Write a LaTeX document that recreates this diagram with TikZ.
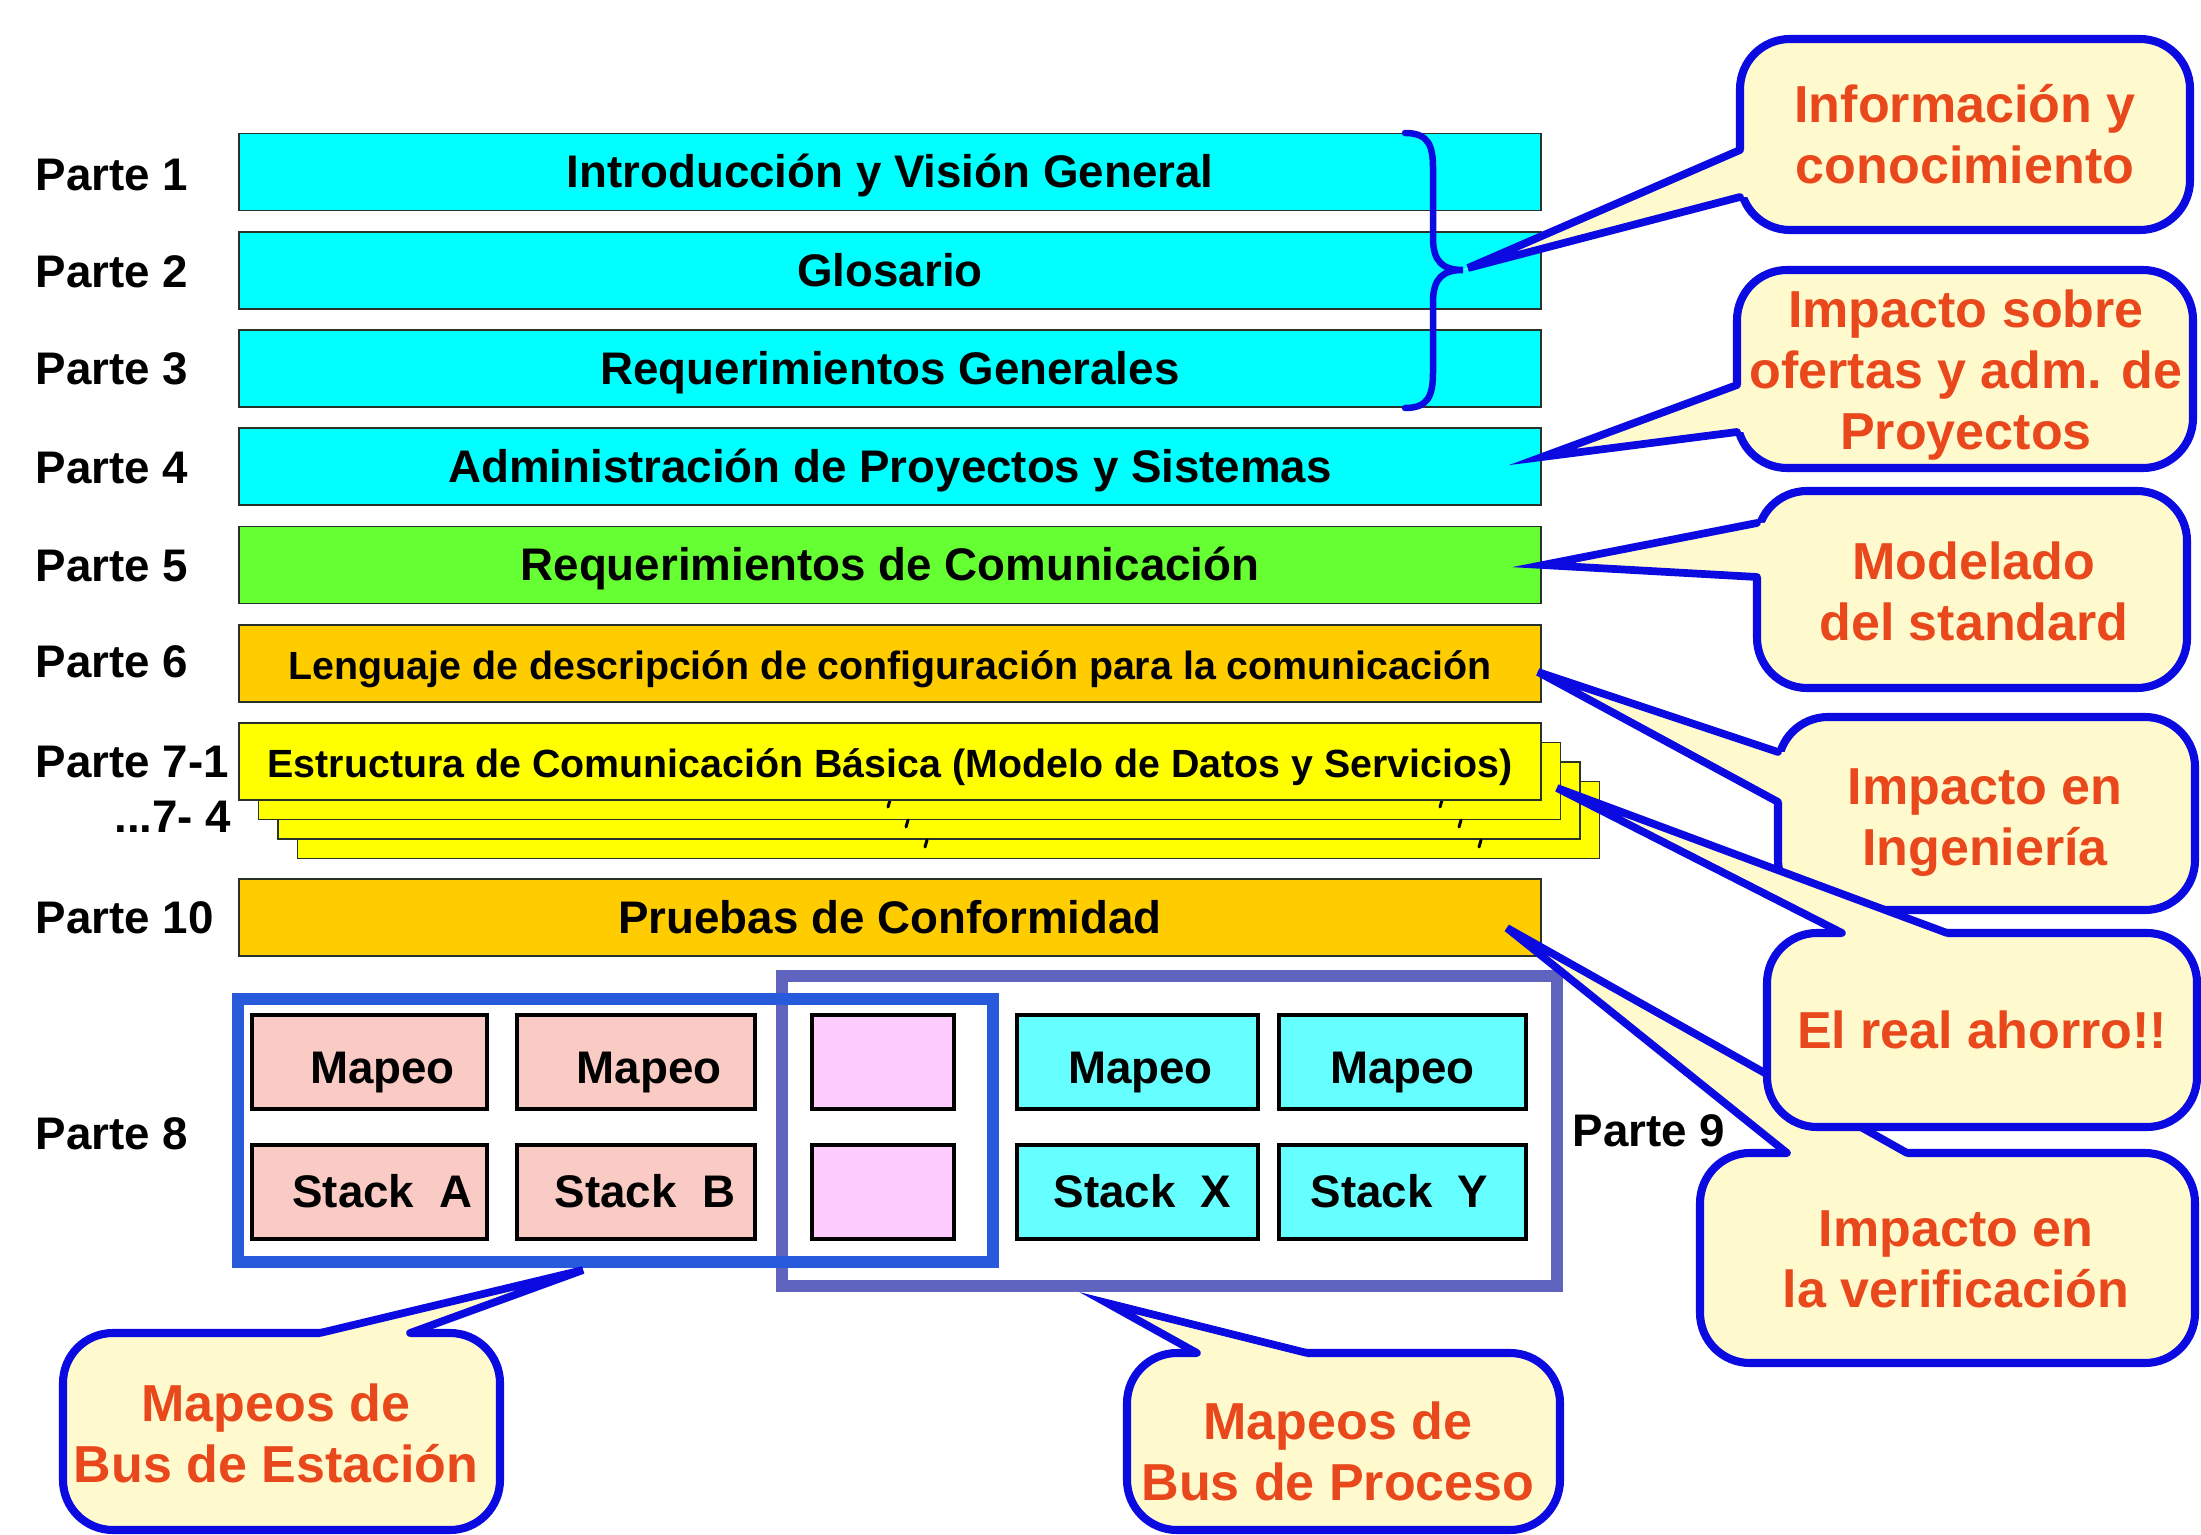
\documentclass[tikz,border=0pt]{standalone}
\usepackage{fontspec}
\setmainfont{Liberation Sans}
\definecolor{barcyan}{RGB}{0,255,255}
\definecolor{bargreen}{RGB}{102,255,51}
\definecolor{barorange}{RGB}{255,204,0}
\definecolor{baryellow}{RGB}{255,255,0}
\definecolor{pinkbox}{RGB}{250,202,196}
\definecolor{magbox}{RGB}{255,204,255}
\definecolor{cyanbox}{RGB}{102,255,255}
\definecolor{callfill}{RGB}{255,250,205}
\definecolor{callline}{RGB}{10,10,225}
\definecolor{calltext}{RGB}{232,72,28}
\definecolor{frameA}{RGB}{40,90,220}
\definecolor{frameB}{RGB}{95,100,190}
\definecolor{barline}{RGB}{40,50,40}
\tikzset{
  bar/.style={draw=barline, line width=0.5pt, minimum width=130.2mm, minimum height=7.7mm,
    inner sep=0pt, text height=0.9em, text depth=0pt, font=\fontsize{13}{15}\selectfont\bfseries},
  parte/.style={anchor=west, inner sep=0pt, text height=0.9em, text depth=0pt,
    font=\fontsize{13}{15}\selectfont\bfseries},
  sbox/.style={draw=black, line width=0.9pt, minimum height=9.4mm, inner sep=0pt,
    text height=0.9em, text depth=0pt, font=\fontsize{13}{15}\selectfont\bfseries},
  mapeo/.style={text height=1.2em},
  callout/.style={draw=callline, fill=callfill, line width=2.3pt, rounded corners=5mm, inner sep=0pt},
  calltxt/.style={inner sep=0pt, align=center, text=calltext, font=\fontsize{14.8}{17.4}\selectfont\bfseries},
  wedgefill/.style={fill=callfill},
  wedgeline/.style={draw=callline, line width=2.2pt, line cap=round, line join=miter},
  frameline/.style={line width=1.2mm, inner sep=0pt},
  tick/.style={line width=0.3mm, line cap=round}
}
\begin{document}
\begin{tikzpicture}[x=0.1mm,y=-0.1mm]
\useasboundingbox (0,0) rectangle (2201,1535);
\fill[white] (0,0) rectangle (2201,1535);

% ---- stacked sheets (parte 7) ----
\node[bar, fill=baryellow] (s4) at (948.5,820) {};
\node[bar, fill=baryellow] (s3) at (929,800.5) {};
\node[bar, fill=baryellow] (s2) at (909.5,781) {};
\draw[tick] (890,800) -- (888,807);
\draw[tick] (1442,800) -- (1440,807);
\draw[tick] (908,820) -- (906,827);
\draw[tick] (1461,820) -- (1459,827);
\draw[tick] (927,840) -- (925,847);
\draw[tick] (1481,840) -- (1479,847);

% ---- bars ----
\node[bar, fill=barcyan] (b1) at (890,172) {Introducción y Visión General};
\node[bar, fill=barcyan] (b2) at (890,270.5) {Glosario};
\node[bar, fill=barcyan] (b3) at (890,368.5) {Requerimientos Generales};
\node[bar, fill=barcyan] (b4) at (890,466.5) {Administración de Proyectos y Sistemas};
\node[bar, fill=bargreen] (b5) at (890,565) {Requerimientos de Comunicación};
\node[bar, fill=barorange, font=\fontsize{11.2}{13}\selectfont\bfseries] (b6) at (890,663.5) {Lenguaje de descripción de configuración para la comunicación};
\node[bar, fill=baryellow, font=\fontsize{11.2}{13}\selectfont\bfseries] (b7) at (890,761.5) {Estructura de Comunicación Básica (Modelo de Datos y Servicios)};
\node[bar, fill=barorange] (b10) at (890,917.5) {Pruebas de Conformidad};

% ---- labels ----
\node[parte] (p1) at (35,175) {Parte 1};
\node[parte] (p2) at (35,272) {Parte 2};
\node[parte] (p3) at (35,369) {Parte 3};
\node[parte] (p4) at (35,468) {Parte 4};
\node[parte] (p5) at (35,566) {Parte 5};
\node[parte] (p6) at (35,662) {Parte 6};
\node[parte] (p7) at (35,762) {Parte 7-1};
\node[parte, anchor=east] (p74) at (232,817) {...7- 4};
\node[parte] (p10) at (35,918) {Parte 10};
\node[parte] (p8) at (35,1134) {Parte 8};
\node[parte] (p9) at (1572,1131) {Parte 9};

% ---- brace ----
\coordinate (brtip) at (1463,270);
\draw[callline, line width=0.65mm, line cap=round]
  (1405,133) .. controls (1428,133) and (1433,145) .. (1433,168) -- (1433,238)
  .. controls (1433,262) and (1443,270) .. (brtip)
  .. controls (1443,270) and (1433,278) .. (1433,302) -- (1433,372)
  .. controls (1433,396) and (1428,408) .. (1405,408);

% ---- frames parte 8 / 9 ----
\node[frameline, draw=frameB, minimum width=77.5mm, minimum height=31mm] (f9) at (1169.5,1131) {};
\node[frameline, draw=frameA, minimum width=75.5mm, minimum height=26.3mm] (f8) at (615.5,1130.5) {};

% ---- small boxes ----
\node[sbox, mapeo, fill=pinkbox, minimum width=23.5mm] (ma) at (369.5,1062) {\hspace*{2.6mm}Mapeo};
\node[sbox, mapeo, fill=pinkbox, minimum width=23.8mm] (mb) at (636,1062) {\hspace*{2.6mm}Mapeo};
\node[sbox, fill=magbox, minimum width=14.2mm] (mm) at (883,1062) {};
\node[sbox, mapeo, fill=cyanbox, minimum width=24.1mm] (mx) at (1137.5,1062) {\hspace*{0.6mm}Mapeo};
\node[sbox, mapeo, fill=cyanbox, minimum width=24.7mm] (my) at (1402.5,1062) {Mapeo};
\node[sbox, fill=pinkbox, minimum width=23.5mm] (sa) at (369.5,1192) {\hspace*{2.6mm}Stack\ \ A};
\node[sbox, fill=pinkbox, minimum width=23.8mm] (sb) at (636,1192) {\hspace*{1.8mm}Stack\ \ B};
\node[sbox, fill=magbox, minimum width=14.2mm] (sm) at (883,1192) {};
\node[sbox, fill=cyanbox, minimum width=24.1mm] (sx) at (1137.5,1192) {\hspace*{1mm}Stack\ \ X};
\node[sbox, fill=cyanbox, minimum width=24.7mm] (sy) at (1402.5,1192) {Stack\ \ Y\hspace*{0.6mm}};

% ---- callout 1 ----
\node[callout, minimum width=45mm, minimum height=19.1mm] (c1) at (1965,134.5) {};
\coordinate (c1a) at (1740,150); \coordinate (c1b) at (1740,197);
\fill[wedgefill] (brtip) -- (c1a) -- (1756,150) -- (1756,197) -- (c1b) -- cycle;
\draw[wedgeline] (c1a) -- (1468,268) -- (c1b);
\node[calltxt] (c1t) at (1965,134.5) {Información y\\conocimiento};

% ---- callout 2 ----
\node[callout, minimum width=45.6mm, minimum height=19.8mm] (c2) at (1965,369) {};
\coordinate (c2t) at (1542,457); \coordinate (c2a) at (1737,385); \coordinate (c2b) at (1737,432);
\fill[wedgefill] (c2t) -- (c2a) -- (1753,385) -- (1753,432) -- (c2b) -- cycle;
\draw[wedgeline] (c2a) -- (c2t) -- (c2b);
\node[calltxt] (c2x) at (1966,375) {Impacto sobre\\ofertas y adm. de\\Proyectos};

% ---- callout 3 ----
\node[callout, minimum width=43mm, minimum height=19.7mm] (c3) at (1972,589.5) {};
\coordinate (c3t) at (1543,565); \coordinate (c3a) at (1757,523); \coordinate (c3b) at (1757,577);
\fill[wedgefill] (c3t) -- (c3a) -- (1773,523) -- (1773,577) -- (c3b) -- cycle;
\draw[wedgeline] (c3a) -- (c3t) -- (c3b);
\node[calltxt] (c3x) at (1974,591) {Modelado\\del standard};

% ---- callout 4 ----
\node[callout, minimum width=41.7mm, minimum height=19.3mm] (c4) at (1986.5,813.5) {};
\coordinate (c4t) at (1538,672); \coordinate (c4a) at (1778,752); \coordinate (c4b) at (1778,802);
\fill[wedgefill] (c4t) -- (c4a) -- (1794,752) -- (1794,802) -- (c4b) -- cycle;
\draw[wedgeline] (c4a) -- (c4t) -- (c4b);
\node[calltxt] (c4x) at (1985,823) {Impacto en\\Ingeniería};

% ---- callout 6 ----
\node[callout, minimum width=49.5mm, minimum height=21mm] (c6) at (1947.5,1258) {};
\coordinate (c6t) at (1507,928); \coordinate (c6a) at (1787,1153); \coordinate (c6b) at (1907,1153);
\fill[wedgefill] (c6t) -- (c6a) -- (1787,1169) -- (1907,1169) -- (c6b) -- cycle;
\draw[wedgeline] (c6a) -- (c6t) -- (c6b);
\node[calltxt] (c6x) at (1956,1259.5) {Impacto en\\la verificación};

% ---- callout 5 ----
\node[callout, minimum width=43mm, minimum height=19.4mm] (c5) at (1982,1030) {};
\coordinate (c5t) at (1557,788); \coordinate (c5a) at (1842,933); \coordinate (c5b) at (1947,933);
\fill[wedgefill] (c5t) -- (c5a) -- (1842,949) -- (1947,949) -- (c5b) -- cycle;
\draw[wedgeline] (c5a) -- (c5t) -- (c5b);
\node[calltxt] (c5x) at (1982,1030) {El real ahorro!!};

% ---- callout 7 ----
\node[callout, minimum width=43.7mm, minimum height=19.7mm] (c7) at (281.5,1431.5) {};
\coordinate (c7t) at (583,1270); \coordinate (c7a) at (320,1333); \coordinate (c7b) at (410,1333);
\fill[wedgefill] (c7t) -- (c7a) -- (320,1349) -- (410,1349) -- (c7b) -- cycle;
\draw[wedgeline] (c7a) -- (c7t) -- (c7b);
\node[calltxt] (c7x) at (276,1433) {Mapeos de\\Bus de Estación};

% ---- callout 8 ----
\node[callout, minimum width=43.3mm, minimum height=17.7mm] (c8) at (1343.5,1441.5) {};
\coordinate (c8t) at (1107,1303); \coordinate (c8a) at (1197,1353); \coordinate (c8b) at (1307,1353);
\fill[wedgefill] (c8t) -- (c8a) -- (1197,1369) -- (1307,1369) -- (c8b) -- cycle;
\draw[wedgeline] (c8a) -- (c8t) -- (c8b);
\node[calltxt] (c8x) at (1338,1451.5) {Mapeos de\\Bus de Proceso};
\end{tikzpicture}
\end{document}
